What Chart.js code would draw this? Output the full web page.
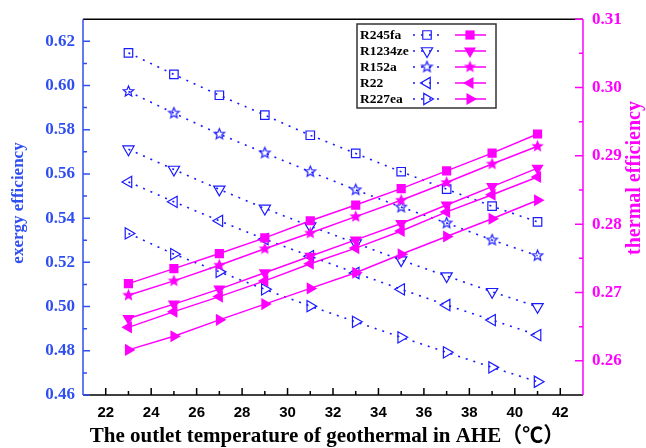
<!DOCTYPE html>
<html>
<head>
<meta charset="utf-8">
<script src="https://cdn.jsdelivr.net/npm/chart.js@4.4.0/dist/chart.umd.min.js"></script>
<style>
  html, body { margin: 0; padding: 0; background: #fff; }
  #wrap { width: 646px; height: 448px; position: relative; }
</style>
</head>
<body>
<div id="wrap"><canvas id="chart"></canvas></div>
<script>
const temps = [23, 25, 27, 29, 31, 33, 35, 37, 39, 41];
const fluids = ['R245fa', 'R1234ze', 'R152a', 'R22', 'R227ea'];

// exergy efficiency, left axis
const exR245fa  = [0.6148, 0.6050, 0.5956, 0.5866, 0.5775, 0.5693, 0.5610, 0.5531, 0.5454, 0.5383];
const exR1234ze = [0.5712, 0.5620, 0.5530, 0.5444, 0.5364, 0.5287, 0.5210, 0.5138, 0.5067, 0.4999];
const exR152a   = [0.5973, 0.5875, 0.5780, 0.5695, 0.5610, 0.5528, 0.5450, 0.5378, 0.5301, 0.5230];
const exR22     = [0.5564, 0.5474, 0.5388, 0.5305, 0.5228, 0.5152, 0.5078, 0.5007, 0.4939, 0.4871];
const exR227ea  = [0.5331, 0.5237, 0.5157, 0.5078, 0.5002, 0.4931, 0.4861, 0.4793, 0.4725, 0.4660];

// thermal efficiency, right axis
const thR245fa  = [0.2713, 0.2735, 0.2757, 0.2780, 0.2805, 0.2828, 0.2852, 0.2878, 0.2904, 0.2932];
const thR1234ze = [0.2662, 0.2683, 0.2705, 0.2729, 0.2753, 0.2777, 0.2801, 0.2828, 0.2855, 0.2882];
const thR152a   = [0.2696, 0.2717, 0.2740, 0.2764, 0.2787, 0.2811, 0.2835, 0.2861, 0.2888, 0.2914];
const thR22     = [0.2649, 0.2672, 0.2694, 0.2717, 0.2742, 0.2765, 0.2790, 0.2818, 0.2843, 0.2869];
const thR227ea  = [0.2616, 0.2636, 0.2660, 0.2683, 0.2706, 0.2729, 0.2756, 0.2782, 0.2808, 0.2835];

const xTicks  = [22, 24, 26, 28, 30, 32, 34, 36, 38, 40, 42];
const exTicks = [0.46, 0.48, 0.50, 0.52, 0.54, 0.56, 0.58, 0.60, 0.62];
const thTicks = [0.26, 0.27, 0.28, 0.29, 0.30, 0.31];

const exSeries = [exR245fa, exR1234ze, exR152a, exR22, exR227ea];
const thSeries = [thR245fa, thR1234ze, thR152a, thR22, thR227ea];

const BLUE = '#1a1aff';
const AXBLUE = '#2f4ff0';
const MAG = '#ff00ff';
const SERIF = "'Liberation Serif', 'Times New Roman', serif";

// 5-point star as a little canvas so chart.js can use it as a pointStyle
function starImage(r, filled, color) {
  const s = Math.ceil(r * 2 + 4);
  const c = document.createElement('canvas');
  c.width = s; c.height = s;
  const g = c.getContext('2d');
  g.beginPath();
  for (let i = 0; i < 10; i++) {
    const rr = i % 2 ? r * 0.45 : r;
    const a = -Math.PI / 2 + i * Math.PI / 5;
    const px = s / 2 + rr * Math.cos(a), py = s / 2 + rr * Math.sin(a);
    if (i) g.lineTo(px, py); else g.moveTo(px, py);
  }
  g.closePath();
  if (filled) { g.fillStyle = color; g.fill(); }
  else { g.strokeStyle = color; g.lineWidth = 1.2; g.stroke(); }
  return c;
}

const openStar = starImage(5.5, false, BLUE);
const fullStar = starImage(6.5, true, MAG);

const openStyles = ['rect', 'triangle', openStar, 'triangle', 'triangle'];
const fullStyles = ['rect', 'triangle', fullStar, 'triangle', 'triangle'];
const rotations  = [0, 180, 0, -90, 90];
const openRadius = [6, 6.5, 6, 6.5, 6.5];
const fullRadius = [6.5, 7, 6.5, 7, 7];

const datasets = [];
fluids.forEach((f, i) => {
  datasets.push({
    label: f + ' exergy',
    data: temps.map((t, j) => ({x: t, y: exSeries[i][j]})),
    yAxisID: 'yEx',
    borderColor: BLUE,
    borderWidth: 1.6,
    borderDash: [2, 6],
    pointStyle: openStyles[i],
    pointRotation: rotations[i],
    pointRadius: openRadius[i],
    pointBorderWidth: 1.2,
    pointBorderColor: BLUE,
    pointBackgroundColor: 'rgba(0,0,0,0)',
    order: 1
  });
  datasets.push({
    label: f + ' thermal',
    data: temps.map((t, j) => ({x: t, y: thSeries[i][j]})),
    yAxisID: 'yTh',
    borderColor: MAG,
    borderWidth: 1.5,
    pointStyle: fullStyles[i],
    pointRotation: rotations[i],
    pointRadius: fullRadius[i],
    pointBorderWidth: 0,
    pointBackgroundColor: MAG,
    order: 0
  });
});

// frame, inward ticks, axis titles and the two-column legend
const decor = {
  id: 'decor',
  afterDatasetsDraw(chart) {
    const {ctx, chartArea: a, scales} = chart;
    const x = scales.x, yl = scales.yEx, yr = scales.yTh;
    ctx.save();
    ctx.lineWidth = 1.5;

    ctx.strokeStyle = '#000';
    ctx.beginPath();
    ctx.moveTo(a.left, a.top); ctx.lineTo(a.right, a.top);
    ctx.moveTo(a.left, a.bottom); ctx.lineTo(a.right, a.bottom);
    for (let v = 22; v <= 42; v++) {
      const px = x.getPixelForValue(v);
      const len = v % 2 === 0 ? 7 : 4;
      ctx.moveTo(px, a.bottom); ctx.lineTo(px, a.bottom - len);
    }
    ctx.stroke();

    ctx.strokeStyle = AXBLUE;
    ctx.beginPath();
    ctx.moveTo(a.left, a.top); ctx.lineTo(a.left, a.bottom);
    for (let k = 0; k <= 16; k++) {
      const v = 0.46 + k * 0.01;
      const py = yl.getPixelForValue(v);
      const len = k % 2 === 0 ? 7 : 4;
      ctx.moveTo(a.left, py); ctx.lineTo(a.left + len, py);
    }
    ctx.stroke();

    ctx.strokeStyle = MAG;
    ctx.beginPath();
    ctx.moveTo(a.right, a.top); ctx.lineTo(a.right, a.bottom);
    for (let k = 0; k <= 10; k++) {
      const v = 0.26 + k * 0.005;
      const py = yr.getPixelForValue(v);
      const len = k % 2 === 0 ? 8 : 4;
      ctx.moveTo(a.right, py); ctx.lineTo(a.right - len, py);
    }
    ctx.stroke();

    // axis titles
    ctx.textAlign = 'center';
    ctx.textBaseline = 'middle';
    ctx.fillStyle = '#000';
    ctx.font = "bold 21px " + SERIF + ", 'Noto Sans CJK SC'";
    ctx.fillText('The outlet temperature of geothermal in AHE（℃）', 327, 437);

    ctx.save();
    ctx.translate(19, 203);
    ctx.rotate(-Math.PI / 2);
    ctx.fillStyle = AXBLUE;
    ctx.font = 'bold 17px ' + SERIF;
    ctx.fillText('exergy efficiency', 0, 0);
    ctx.restore();

    ctx.save();
    ctx.translate(635, 178);
    ctx.rotate(-Math.PI / 2);
    ctx.fillStyle = MAG;
    ctx.font = 'bold 20px ' + SERIF;
    ctx.fillText('thermal efficiency', 0, 0);
    ctx.restore();

    // legend box
    const bx = 357, by = 24, bw = 139, bh = 84;
    ctx.fillStyle = '#fff';
    ctx.fillRect(bx, by, bw, bh);
    ctx.strokeStyle = '#333';
    ctx.lineWidth = 1.5;
    ctx.strokeRect(bx, by, bw, bh);
    ctx.textAlign = 'left';
    fluids.forEach((f, i) => {
      const ty = 35 + i * 16;
      ctx.fillStyle = '#000';
      ctx.font = 'bold 13.5px ' + SERIF;
      ctx.fillText(f, 360, ty + 1);

      ctx.save();
      ctx.strokeStyle = BLUE;
      ctx.lineWidth = 1.6;
      ctx.setLineDash([2, 6]);
      ctx.beginPath();
      ctx.moveTo(413, ty); ctx.lineTo(443, ty);
      ctx.stroke();
      ctx.restore();
      ctx.fillStyle = 'rgba(0,0,0,0)';
      ctx.strokeStyle = BLUE;
      ctx.lineWidth = 1.2;
      Chart.helpers.drawPoint(ctx, {pointStyle: openStyles[i], rotation: rotations[i], radius: openRadius[i], borderWidth: 1.2}, 427, ty);

      ctx.strokeStyle = MAG;
      ctx.lineWidth = 1.5;
      ctx.beginPath();
      ctx.moveTo(455, ty); ctx.lineTo(486, ty);
      ctx.stroke();
      ctx.fillStyle = MAG;
      Chart.helpers.drawPoint(ctx, {pointStyle: fullStyles[i], rotation: rotations[i], radius: fullRadius[i], borderWidth: 0}, 470, ty);
    });
    ctx.restore();
  }
};

const ctx = document.getElementById('chart').getContext('2d');
const chart = new Chart(ctx, {
  type: 'line',
  data: { datasets: datasets },
  plugins: [decor],
  options: {
    responsive: true,
    maintainAspectRatio: false,
    animation: false,
    layout: { padding: { top: 19, left: 0, right: 0, bottom: 0 } },
    plugins: { legend: { display: false }, tooltip: { enabled: false } },
    scales: {
      x: {
        type: 'linear',
        min: 21,
        max: 43,
        afterBuildTicks: s => { s.ticks = xTicks.map(v => ({value: v})); },
        afterFit: s => { s.height = 53; },
        grid: { display: false, drawTicks: false },
        border: { display: false },
        ticks: {
          padding: 9,
          color: '#000',
          font: { family: "'Liberation Sans', Arial, sans-serif", size: 15, weight: 'bold' },
          callback: v => String(v)
        }
      },
      yEx: {
        type: 'linear',
        position: 'left',
        min: 0.46,
        max: 0.63,
        afterBuildTicks: s => { s.ticks = exTicks.map(v => ({value: v})); },
        afterFit: s => { s.width = 83; },
        grid: { display: false, drawTicks: false },
        border: { display: false },
        ticks: {
          padding: 8,
          color: AXBLUE,
          font: { family: SERIF, size: 17, weight: 'bold' },
          callback: v => v.toFixed(2)
        }
      },
      yTh: {
        type: 'linear',
        position: 'right',
        min: 0.255,
        max: 0.31,
        afterBuildTicks: s => { s.ticks = thTicks.map(v => ({value: v})); },
        afterFit: s => { s.width = 63; },
        grid: { display: false, drawTicks: false },
        border: { display: false },
        ticks: {
          padding: 9,
          color: MAG,
          font: { family: SERIF, size: 17, weight: 'bold' },
          callback: v => v.toFixed(2)
        }
      }
    }
  }
});
</script>
</body>
</html>
